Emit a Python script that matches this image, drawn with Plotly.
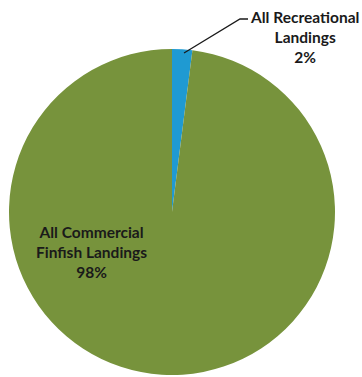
import plotly.graph_objects as go

W, H = 362, 377

# Share of landings by sector
labels = ["All Recreational Landings", "All Commercial Finfish Landings"]
values = [2, 98]
colors = ["#1F9AD2", "#77933C"]


def px(x, y):
    """Pixel position -> paper coordinates."""
    return x / W, 1 - y / H


fig = go.Figure(
    go.Pie(
        labels=labels,
        values=values,
        sort=False,
        direction="clockwise",
        rotation=0,
        marker=dict(colors=colors, line=dict(width=0)),
        textinfo="none",
        hoverinfo="label+percent",
        domain=dict(x=[9 / W, 335 / W], y=[2 / H, 328 / H]),
        showlegend=False,
    )
)

font = dict(family="Lato, 'Open Sans', sans-serif", size=15.5, color="#1a1a1a")


def slice_label(i, text, cx, cy):
    x, y = px(cx, cy)
    fig.add_annotation(
        x=x, y=y, xref="paper", yref="paper",
        text=f"<b>{text}<br>{values[i]}%</b>",
        showarrow=False, align="center", font=font,
        xanchor="center", yanchor="middle",
    )


slice_label(0, "All Recreational<br>Landings", 304, 37)
slice_label(1, "All Commercial<br>Finfish Landings", 91, 252)

# leader line for the small slice
x0, y0 = px(184, 53)
x1, y1 = px(240, 19)
x2, y2 = px(248, 19)
fig.add_shape(
    type="path", xref="paper", yref="paper",
    path=f"M {x0} {y0} L {x1} {y1} L {x2} {y2}",
    line=dict(color="#1a1a1a", width=1.3),
)

fig.update_layout(
    width=W, height=H,
    margin=dict(l=0, r=0, t=0, b=0),
    paper_bgcolor="white", plot_bgcolor="white",
)

fig.write_html("out.html")
